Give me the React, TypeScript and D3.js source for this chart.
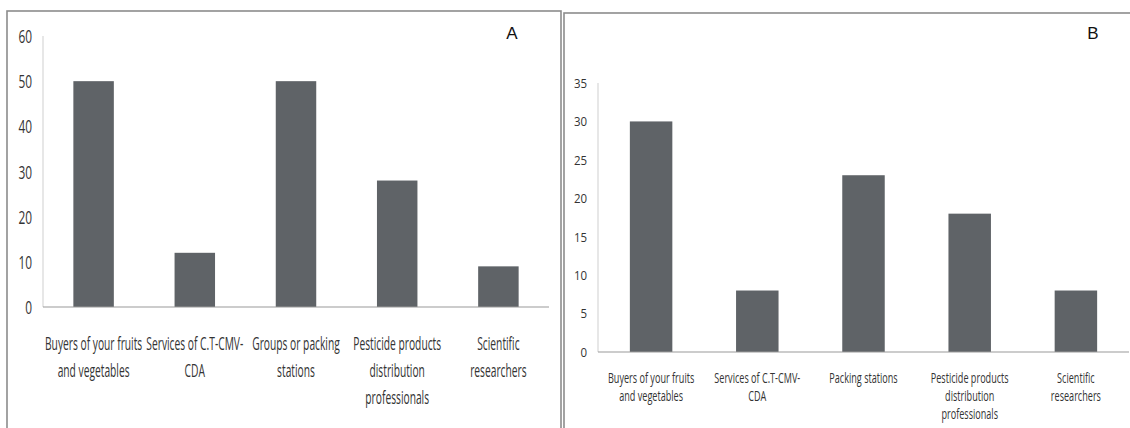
import React from "react";
import * as d3 from "d3";

const categoriesA: string[][] = [
  ["Buyers of your fruits", "and vegetables"],
  ["Services of C.T-CMV-", "CDA"],
  ["Groups or packing", "stations"],
  ["Pesticide products", "distribution", "professionals"],
  ["Scientific", "researchers"],
];
const valuesA: number[] = [50, 12, 50, 28, 9];
const ticksA: number[] = [0, 10, 20, 30, 40, 50, 60];

const categoriesB: string[][] = [
  ["Buyers of your fruits", "and vegetables"],
  ["Services of C.T-CMV-", "CDA"],
  ["Packing stations"],
  ["Pesticide products", "distribution", "professionals"],
  ["Scientific", "researchers"],
];
const valuesB: number[] = [30, 8, 23, 18, 8];
const ticksB: number[] = [0, 5, 10, 15, 20, 25, 30, 35];

const BAR = "#5f6367";
const TEXT = "#333";
const FONT = "'Open Sans', sans-serif";

interface PanelProps {
  letter: string;
  cats: string[][];
  values: number[];
  ticks: number[];
  frame: { x: number; y: number; w: number; h: number };
  x0: number;
  x1: number;
  y0: number;
  y1: number;
  letterPos: [number, number];
  tickSize: number;
  tickScale: number;
  labelSize: number;
  labelScale: number;
  labelTop: number;
  lineGap: number;
}

const Panel: React.FC<PanelProps> = (p) => {
  const names = p.cats.map((c) => c.join(" "));
  const x = d3.scaleBand<string>().domain(names).range([p.x0, p.x1]).paddingInner(0.6).paddingOuter(0.3);
  const y = d3.scaleLinear().domain([0, d3.max(p.ticks)!]).range([p.y0, p.y1]);
  return (
    <g>
      <rect x={p.frame.x} y={p.frame.y} width={p.frame.w} height={p.frame.h} fill="#fff" stroke="#8c8c8c" strokeWidth={1.6} />
      <text x={p.letterPos[0]} y={p.letterPos[1]} fontFamily="'Liberation Sans', Arial, sans-serif" fontSize={17} fill="#111" textAnchor="middle" dominantBaseline="central">
        {p.letter}
      </text>
      <line x1={p.x0} x2={p.x0} y1={y(d3.max(p.ticks)!)} y2={p.y0} stroke="#cfcfcf" strokeWidth={1} />
      {p.ticks.map((t) => (
        <text
          key={t}
          transform={`translate(${p.x0 - 11},${y(t)}) scale(${p.tickScale},1)`}
          fontFamily={FONT}
          fontSize={p.tickSize}
          fill={TEXT}
          textAnchor="end"
          dominantBaseline="central"
        >
          {t}
        </text>
      ))}
      {p.values.map((v, i) => (
        <rect key={i} x={x(names[i])} y={y(v)} width={x.bandwidth()} height={y(0) - y(v)} fill={BAR} />
      ))}
      <line x1={p.x0} x2={p.x1} y1={p.y0} y2={p.y0} stroke="#9a9a9a" strokeWidth={1.2} />
      {p.cats.map((lines, i) => {
        const cx = x(names[i])! + x.bandwidth() / 2;
        return lines.map((ln, j) => (
          <text
            key={`${i}-${j}`}
            transform={`translate(${cx},${p.labelTop + j * p.lineGap}) scale(${p.labelScale},1)`}
            fontFamily={FONT}
            fontSize={p.labelSize}
            fill={TEXT}
            textAnchor="middle"
            dominantBaseline="central"
          >
            {ln}
          </text>
        ));
      })}
    </g>
  );
};

export default function App() {
  return (
    <div style={{ position: "absolute", left: 0, top: 0, width: 1130, height: 428, background: "#fff" }}>
      <svg width={1130} height={428} style={{ display: "block" }}>
        <rect width={1130} height={428} fill="#fff" />
        <Panel
          letter="A"
          cats={categoriesA}
          values={valuesA}
          ticks={ticksA}
          frame={{ x: 7, y: 11, w: 554, h: 440 }}
          x0={43}
          x1={549}
          y0={307}
          y1={36}
          letterPos={[512, 33]}
          tickSize={18}
          tickScale={0.66}
          labelSize={17.5}
          labelScale={0.586}
          labelTop={343}
          lineGap={27}
        />
        <Panel
          letter="B"
          cats={categoriesB}
          values={valuesB}
          ticks={ticksB}
          frame={{ x: 564, y: 13, w: 600, h: 440 }}
          x0={598}
          x1={1129}
          y0={352}
          y1={83}
          letterPos={[1093, 33]}
          tickSize={13.5}
          tickScale={0.85}
          labelSize={14}
          labelScale={0.65}
          labelTop={377}
          lineGap={18}
        />
      </svg>
    </div>
  );
}
